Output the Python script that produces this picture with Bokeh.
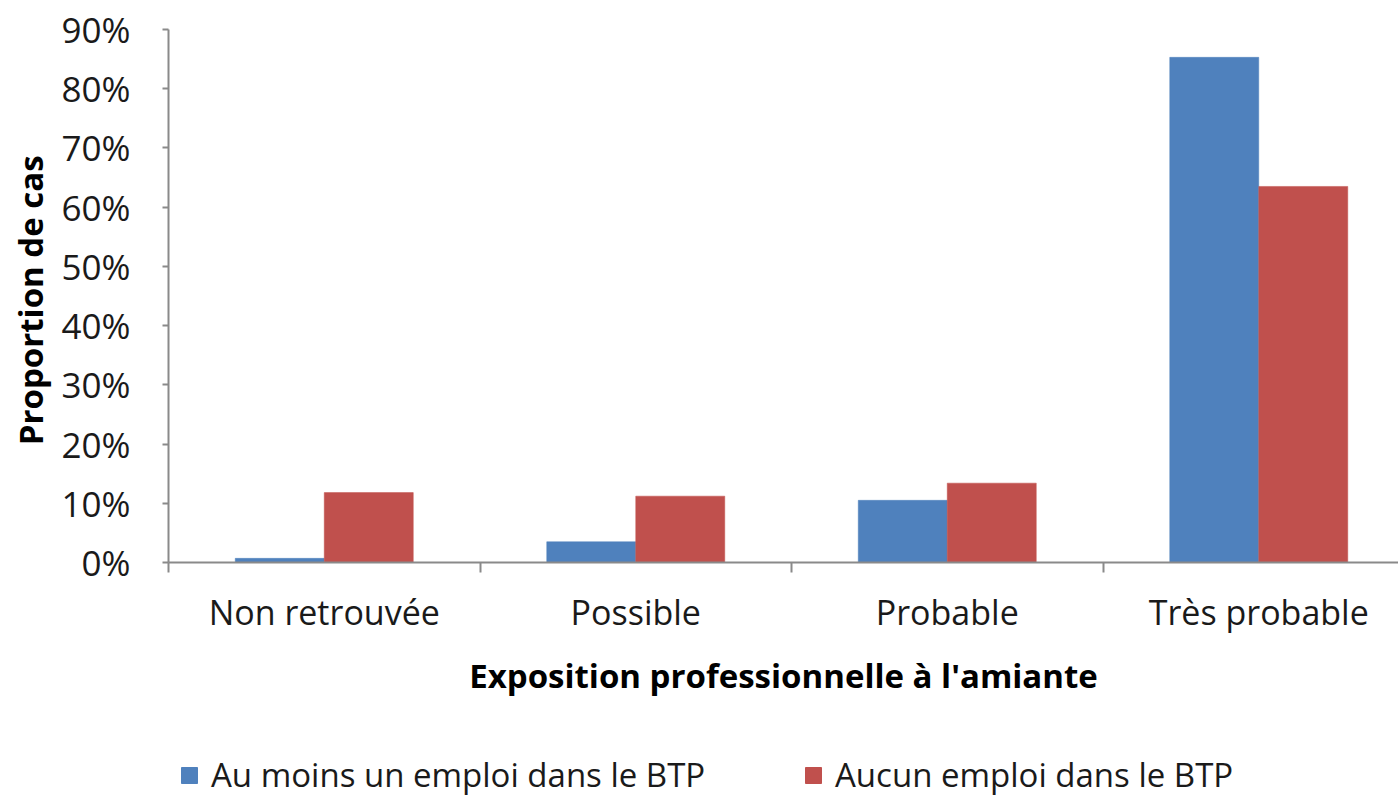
from bokeh.plotting import figure
from bokeh.layouts import column
from bokeh.models import (Range1d, FixedTicker, NumeralTickFormatter, Legend,
                          LegendItem, ColumnDataSource)
from bokeh.transform import dodge
from bokeh.embed import file_html
from bokeh.resources import INLINE

categories = ["Non retrouvée", "Possible", "Probable", "Très probable"]
btp = [0.007, 0.035, 0.105, 0.853]
no_btp = [0.118, 0.112, 0.134, 0.635]
series_names = ["Au moins un emploi dans le BTP", "Aucun emploi dans le BTP"]
y_ticks = [0.0, 0.1, 0.2, 0.3, 0.4, 0.5, 0.6, 0.7, 0.8, 0.9]
x_title = "Exposition professionnelle à l'amiante"
y_title = "Proportion  de cas"

BLUE = "#4F81BD"
RED = "#C0504D"
AXIS = "#8a8a8a"
TXT = "#1a1a1a"
FONT = "Open Sans"

idx = list(range(len(categories)))
centers = [i + 0.5 for i in idx]
bounds = list(range(len(categories) + 1))
bar_w = 1 / 3.5

src = ColumnDataSource(dict(x=centers, btp=btp, no_btp=no_btp))

W = 1398
H1 = 700
H2 = 99
LEFT = 168

p = figure(width=W, height=H1, output_backend="svg", toolbar_location=None,
           x_range=Range1d(0, (W - LEFT) / 311.5), y_range=Range1d(0, 0.9),
           min_border_left=LEFT, min_border_right=0, min_border_top=29,
           min_border_bottom=H1 - 564)
p.outline_line_color = None
p.grid.visible = False

r1 = p.vbar(x=dodge("x", -bar_w / 2), top="btp", width=bar_w, source=src,
            fill_color=BLUE, line_color=BLUE, line_width=0.5)
r2 = p.vbar(x=dodge("x", bar_w / 2), top="no_btp", width=bar_w, source=src,
            fill_color=RED, line_color=RED, line_width=0.5)

# y axis
ya = p.yaxis[0]
ya.ticker = FixedTicker(ticks=y_ticks)
ya.formatter = NumeralTickFormatter(format="0%")
ya.axis_line_color = AXIS
ya.axis_line_width = 2
ya.major_tick_line_color = AXIS
ya.major_tick_line_width = 2
ya.major_tick_out = 6
ya.major_tick_in = 0
ya.minor_tick_line_color = None
ya.major_label_standoff = 32
ya.major_label_text_font = FONT
ya.major_label_text_font_size = "35px"
ya.major_label_text_color = TXT
ya.axis_label = y_title
ya.axis_label_text_font = FONT
ya.axis_label_text_font_style = "bold"
ya.axis_label_text_font_size = "33px"
ya.axis_label_text_color = "#000000"
ya.axis_label_standoff = 6

# x axis
xa = p.xaxis[0]
xa.ticker = FixedTicker(ticks=centers, minor_ticks=bounds)
xa.major_label_overrides = {c: name for c, name in zip(centers, categories)}
xa.axis_line_color = AXIS
xa.axis_line_width = 2
xa.major_tick_line_color = None
xa.major_tick_out = 0
xa.major_tick_in = 0
xa.minor_tick_line_color = AXIS
xa.minor_tick_line_width = 2
xa.minor_tick_out = 10
xa.minor_tick_in = 0
xa.major_label_standoff = 16
xa.major_label_text_font = FONT
xa.major_label_text_font_size = "34px"
xa.major_label_text_color = TXT
xa.axis_label = x_title
xa.axis_label_text_font = FONT
xa.axis_label_text_font_style = "bold"
xa.axis_label_text_font_size = "33px"
xa.axis_label_text_color = "#000000"
xa.axis_label_standoff = 15

# legend figure below the chart (its frame is aligned with the chart's frame)
lf = figure(width=W, height=H2, output_backend="svg", toolbar_location=None,
            x_range=Range1d(0, 1), y_range=Range1d(0, 1),
            x_axis_type=None, y_axis_type=None, min_border=0,
            min_border_left=LEFT)
lf.outline_line_color = None
lf.grid.visible = False
# swatch-only renderers, placed outside the visible range
d1 = lf.vbar(x=[10], top=[0], width=0.1, fill_color=BLUE, line_color=BLUE)
d2 = lf.vbar(x=[10], top=[0], width=0.1, fill_color=RED, line_color=RED)

for name, rend, lx in ((series_names[0], d1, 179), (series_names[1], d2, 803)):
    lg = Legend(items=[LegendItem(label=name, renderers=[rend])],
                location=(lx - LEFT, 2), glyph_width=20, glyph_height=20,
                label_standoff=12, padding=0, margin=0,
                border_line_color=None, background_fill_alpha=0,
                label_text_font=FONT, label_text_font_size="33px",
                label_text_color=TXT)
    lf.add_layout(lg)

layout = column(p, lf, spacing=0)
open("out.html", "w").write(file_html(layout, INLINE))
